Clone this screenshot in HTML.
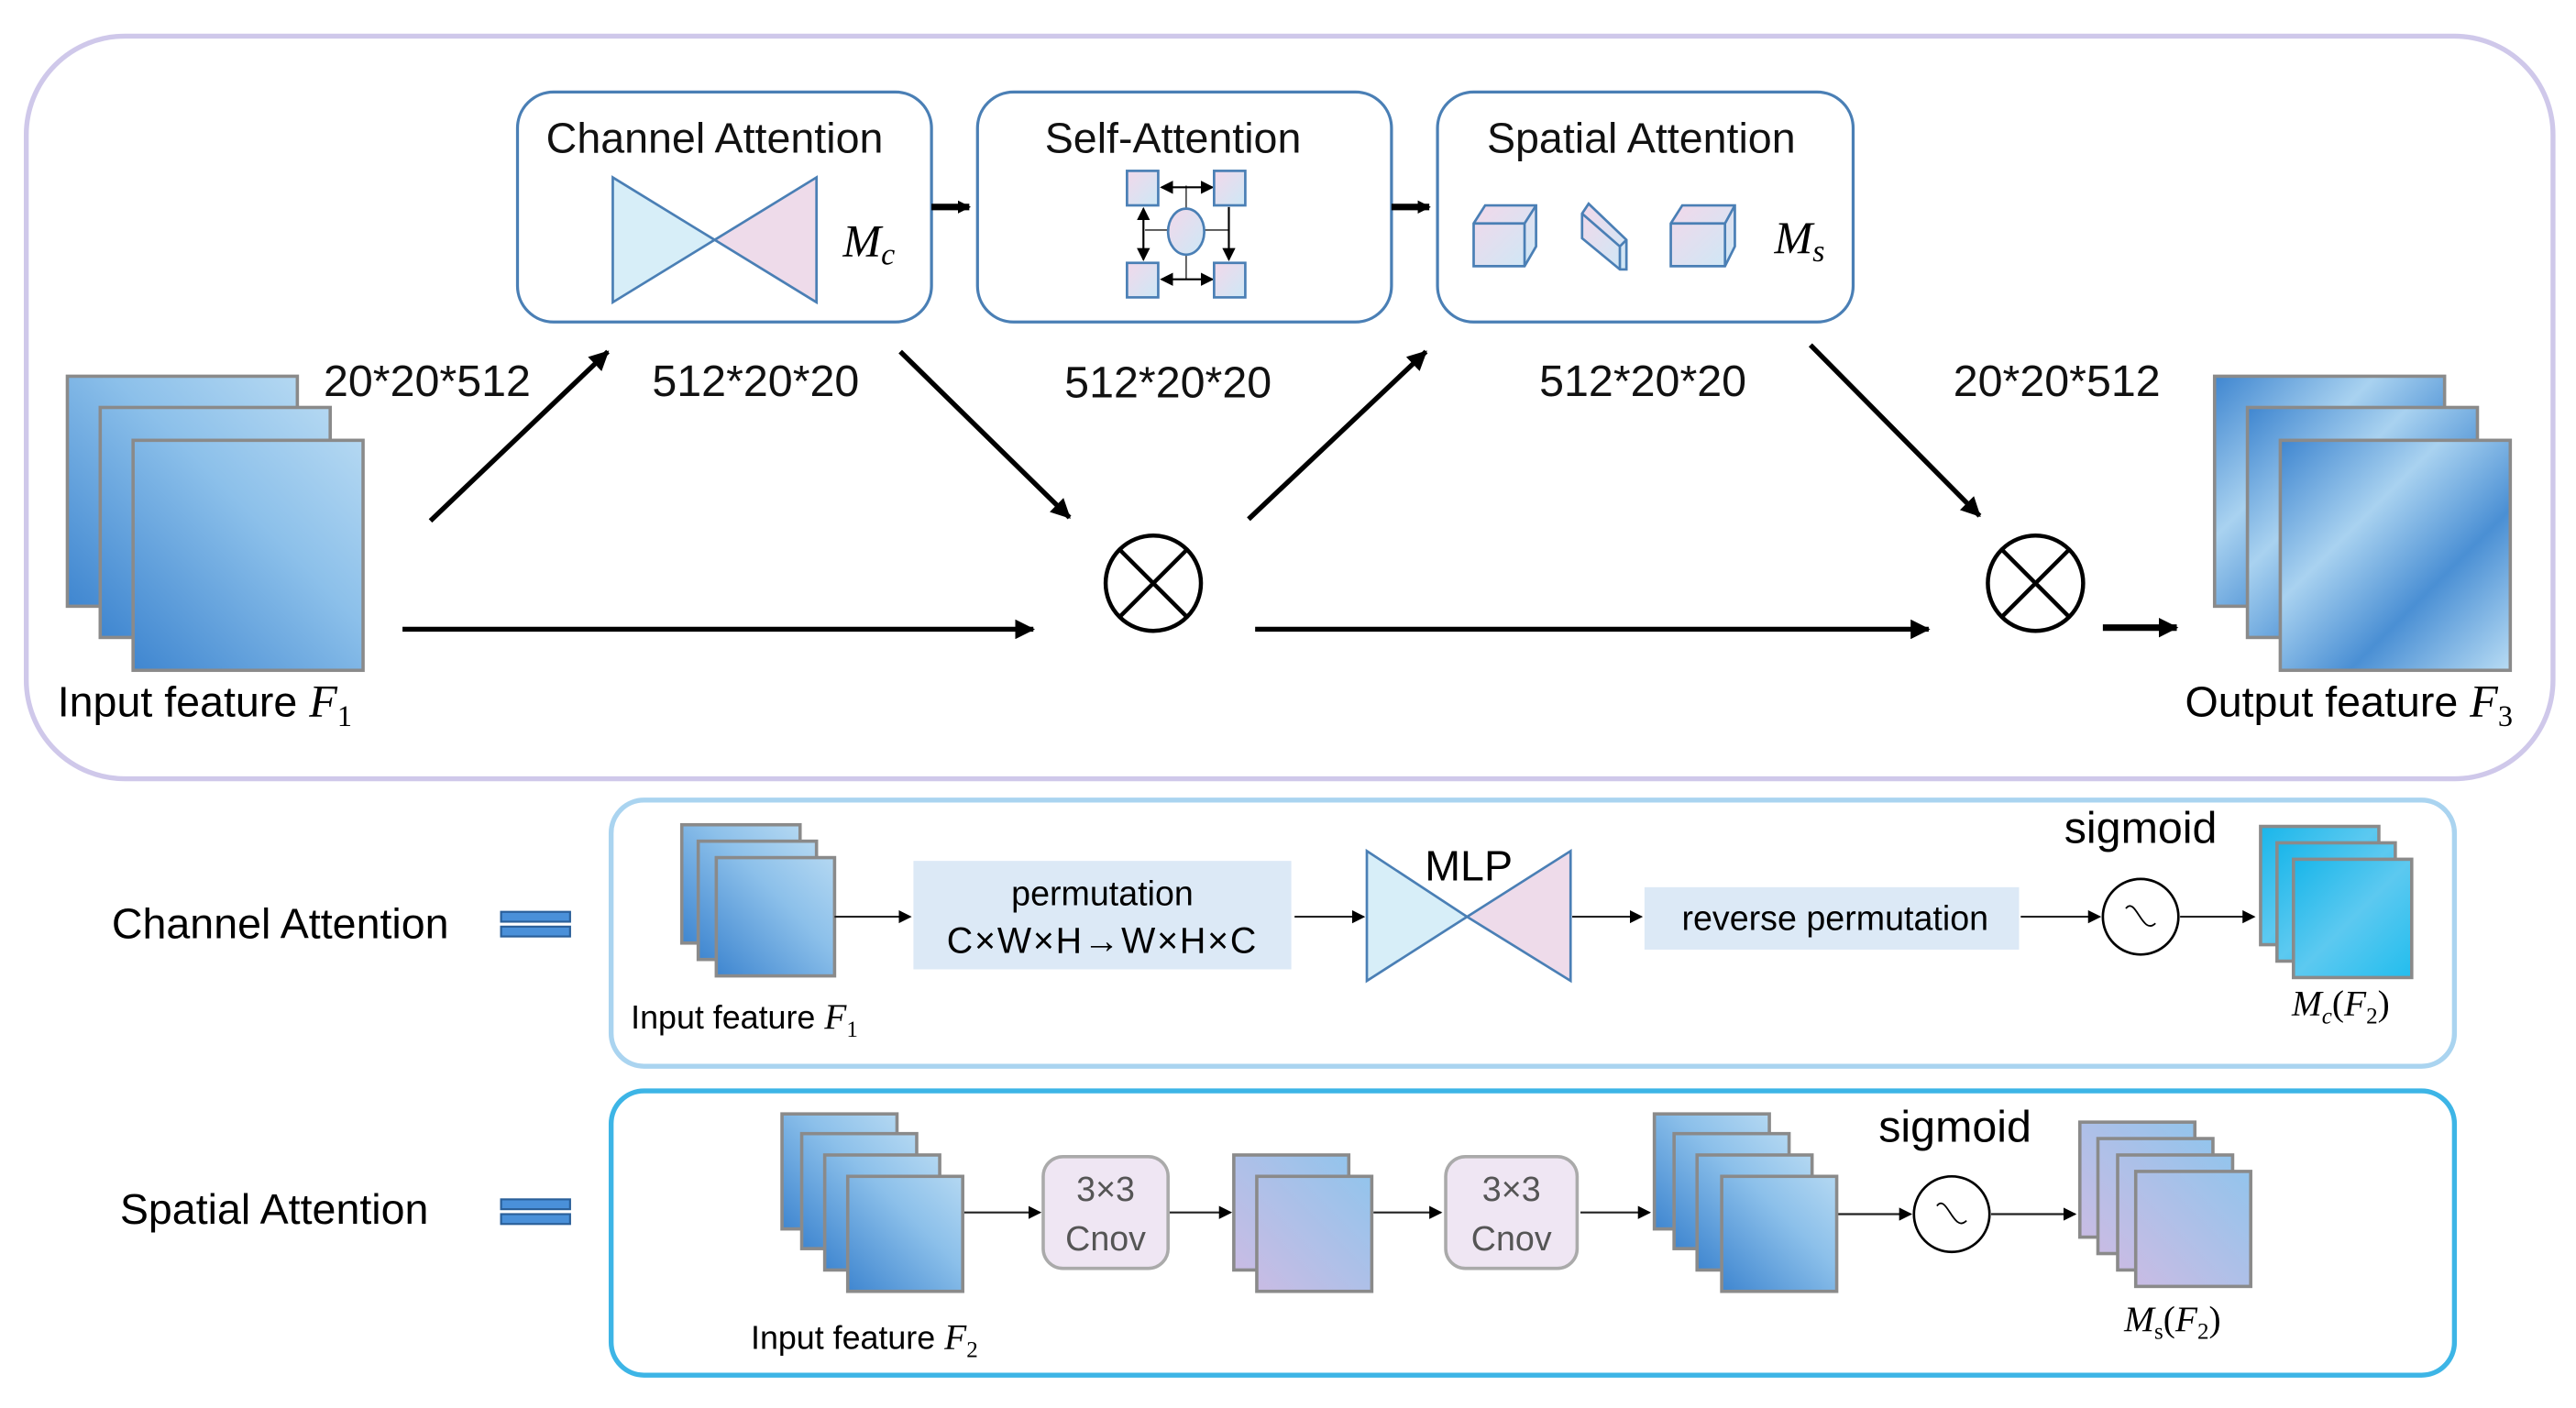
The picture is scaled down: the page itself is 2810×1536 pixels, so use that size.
<!DOCTYPE html>
<html><head><meta charset="utf-8"><style>html,body{margin:0;padding:0;background:#fff}svg{display:block}</style></head><body>
<svg width="2810" height="1536" viewBox="0 0 1568 857" preserveAspectRatio="none" xmlns="http://www.w3.org/2000/svg" font-family="Liberation Sans, sans-serif">
<defs>
<linearGradient id="b1" x1="0" y1="1" x2="1" y2="0"><stop offset="0" stop-color="#3f86d0"/><stop offset="0.6" stop-color="#8cc0ea"/><stop offset="1" stop-color="#b4d8f2"/></linearGradient>
<linearGradient id="b2" x1="0" y1="0" x2="1" y2="1"><stop offset="0" stop-color="#3f86d0"/><stop offset="0.35" stop-color="#a9d2f0"/><stop offset="0.65" stop-color="#4a8fd4"/><stop offset="1" stop-color="#b8dcf4"/></linearGradient>
<linearGradient id="cy" x1="0" y1="0" x2="1" y2="1"><stop offset="0" stop-color="#19b6ea"/><stop offset="0.5" stop-color="#5cc9f0"/><stop offset="1" stop-color="#22bdee"/></linearGradient>
<linearGradient id="lv" x1="0" y1="1" x2="1" y2="0"><stop offset="0" stop-color="#c9bce4"/><stop offset="1" stop-color="#93c4ec"/></linearGradient>
<linearGradient id="pk" x1="0" y1="0" x2="1" y2="1"><stop offset="0" stop-color="#f2d8ea"/><stop offset="1" stop-color="#cde8f6"/></linearGradient>
<marker id="a" markerWidth="8" markerHeight="8" refX="7" refY="4" orient="auto-start-reverse" markerUnits="userSpaceOnUse"><path d="M0,0 L8,4 L0,8 z" fill="#000"/></marker>
<marker id="A" markerWidth="12" markerHeight="12" refX="11" refY="6" orient="auto" markerUnits="userSpaceOnUse"><path d="M0,0 L12,6 L0,12 z" fill="#000"/></marker>
</defs>
<rect x="16" y="22" width="1538" height="452" rx="60" fill="#fff" stroke="#cfc8ea" stroke-width="3"/>
<g fill="#fff" stroke="#4a7fb5" stroke-width="1.8">
<rect x="315" y="56" width="252" height="140" rx="22"/>
<rect x="595" y="56" width="252" height="140" rx="22"/>
<rect x="875" y="56" width="253" height="140" rx="22"/>
</g>
<g font-size="26" text-anchor="middle" fill="#111">
<text x="435" y="93">Channel Attention</text>
<text x="714" y="93">Self-Attention</text>
<text x="999" y="93">Spatial Attention</text>
</g>
<path d="M373,108 L373,184 L435,146Z" fill="#d7eef8" stroke="#4a7fb5" stroke-width="1.5"/>
<path d="M497,108 L497,184 L435,146Z" fill="#eedbea" stroke="#4a7fb5" stroke-width="1.5"/>
<text x="513" y="156" font-family="Liberation Serif, serif" font-style="italic" font-size="28">M<tspan font-size="19" dy="5">c</tspan></text>
<g stroke="#555" stroke-width="1"><line x1="722" y1="113" x2="722" y2="170"/><line x1="697" y1="140" x2="748" y2="140"/></g>
<g stroke="#000" stroke-width="1.2" marker-end="url(#a)" marker-start="url(#a)"><line x1="707" y1="114" x2="738" y2="114"/><line x1="707" y1="170" x2="738" y2="170"/><line x1="696" y1="127" x2="696" y2="158"/></g>
<line x1="748" y1="126" x2="748" y2="158" stroke="#000" stroke-width="1.2" marker-end="url(#a)"/>
<g fill="url(#pk)" stroke="#4a7fb5" stroke-width="1.5">
<rect x="686" y="104" width="19" height="21"/><rect x="739" y="104" width="19" height="21"/>
<rect x="686" y="160" width="19" height="21"/><rect x="739" y="160" width="19" height="21"/>
<ellipse cx="722" cy="141" rx="11" ry="14"/>
</g>
<g fill="url(#pk)" stroke="#4a7fb5" stroke-width="1.5">
<path d="M897,136 L904,125 L935,125 L935,150 L928,162 L897,162Z"/><path d="M897,136 L928,136 L935,125 M928,136 L928,162" fill="none"/>
<path d="M963,130 L967,124 L990,146 L990,164 L986,164 L963,145Z"/><path d="M963,130 L986,150 L990,146 M986,150 L986,164" fill="none"/>
<path d="M1017,136 L1024,125 L1056,125 L1056,150 L1050,162 L1017,162Z"/><path d="M1017,136 L1050,136 L1056,125 M1050,136 L1050,162" fill="none"/>
</g>
<text x="1080" y="154" font-family="Liberation Serif, serif" font-style="italic" font-size="28">M<tspan font-size="19" dy="5">s</tspan></text>
<g stroke="#000" stroke-width="4" marker-end="url(#a)"><line x1="567" y1="126" x2="590" y2="126"/><line x1="847" y1="126" x2="870" y2="126"/></g>
<g font-size="27" text-anchor="middle" fill="#111">
<text x="260" y="241">20*20*512</text><text x="460" y="241">512*20*20</text><text x="711" y="242">512*20*20</text><text x="1000" y="241">512*20*20</text><text x="1252" y="241">20*20*512</text>
</g>
<g stroke="#000" stroke-width="3" marker-end="url(#A)">
<line x1="262" y1="317" x2="370" y2="214"/><line x1="548" y1="214" x2="651" y2="315"/>
<line x1="760" y1="316" x2="868" y2="214"/><line x1="1102" y1="210" x2="1205" y2="314"/>
<line x1="245" y1="383" x2="629" y2="383"/><line x1="764" y1="383" x2="1174" y2="383"/>
<line x1="1280" y1="382" x2="1325" y2="382" stroke-width="4"/>
</g>
<g fill="#fff" stroke="#000" stroke-width="2.5">
<circle cx="702" cy="355" r="29"/><path d="M682,335 L722,375 M722,335 L682,375"/>
<circle cx="1239" cy="355" r="29"/><path d="M1219,335 L1259,375 M1259,335 L1219,375"/>
</g>
<g stroke="#8a8a8a" stroke-width="2">
<rect x="41" y="229" width="140" height="140" fill="url(#b1)"/><rect x="61" y="248" width="140" height="140" fill="url(#b1)"/><rect x="81" y="268" width="140" height="140" fill="url(#b1)"/>
<rect x="1348" y="229" width="140" height="140" fill="url(#b2)"/><rect x="1368" y="248" width="140" height="140" fill="url(#b2)"/><rect x="1388" y="268" width="140" height="140" fill="url(#b2)"/>
</g>
<text x="35" y="436" font-size="26">Input feature <tspan font-family="Liberation Serif, serif" font-style="italic" font-size="28">F</tspan><tspan font-family="Liberation Serif, serif" font-size="18" dy="6">1</tspan></text>
<text x="1330" y="436" font-size="26">Output feature <tspan font-family="Liberation Serif, serif" font-style="italic" font-size="28">F</tspan><tspan font-family="Liberation Serif, serif" font-size="18" dy="6">3</tspan></text>
<rect x="372" y="487" width="1122" height="162" rx="20" fill="#fff" stroke="#aad4f0" stroke-width="3"/>
<rect x="372" y="664" width="1122" height="173" rx="20" fill="#fff" stroke="#3db5e6" stroke-width="3"/>
<text x="68" y="571" font-size="26">Channel Attention</text>
<text x="73" y="745" font-size="26">Spatial Attention</text>
<g fill="#4a90d9" stroke="#2a5f99" stroke-width="1.2">
<rect x="305" y="555" width="42" height="6"/><rect x="305" y="564" width="42" height="6"/>
<rect x="305" y="730" width="42" height="6"/><rect x="305" y="739" width="42" height="6"/>
</g>
<g stroke="#8a8a8a" stroke-width="2">
<rect x="415" y="502" width="72" height="72" fill="url(#b1)"/><rect x="425" y="512" width="72" height="72" fill="url(#b1)"/><rect x="436" y="522" width="72" height="72" fill="url(#b1)"/>
<rect x="1376" y="503" width="72" height="72" fill="url(#cy)"/><rect x="1386" y="513" width="72" height="72" fill="url(#cy)"/><rect x="1396" y="523" width="72" height="72" fill="url(#cy)"/>
</g>
<rect x="556" y="524" width="230" height="66" fill="#dce9f6"/>
<text x="671" y="551" font-size="21" text-anchor="middle">permutation</text>
<text x="671" y="580" font-size="22" text-anchor="middle" letter-spacing="1">C×W×H→W×H×C</text>
<path d="M832,518 L832,597 L893,558Z" fill="#d7eef8" stroke="#4a7fb5" stroke-width="1.5"/>
<path d="M956,518 L956,597 L893,558Z" fill="#eedbea" stroke="#4a7fb5" stroke-width="1.5"/>
<text x="894" y="536" font-size="26" text-anchor="middle">MLP</text>
<rect x="1001" y="540" width="228" height="38" fill="#dce9f6"/>
<text x="1117" y="566" font-size="21" text-anchor="middle">reverse permutation</text>
<text x="1303" y="513" font-size="27" text-anchor="middle">sigmoid</text>
<text x="1190" y="695" font-size="27" text-anchor="middle">sigmoid</text>
<g fill="#fff" stroke="#000" stroke-width="1.5">
<circle cx="1303" cy="558" r="23"/><circle cx="1188" cy="739" r="23"/>
<path d="M1294,553 C1300,545 1304,570 1312,562" fill="none" stroke-width="1"/><path d="M1179,734 C1185,726 1189,751 1197,743" fill="none" stroke-width="1"/>
</g>
<g stroke="#222" stroke-width="1.2" marker-end="url(#a)">
<line x1="508" y1="558" x2="554" y2="558"/><line x1="788" y1="558" x2="830" y2="558"/><line x1="957" y1="558" x2="999" y2="558"/>
<line x1="1230" y1="558" x2="1278" y2="558"/><line x1="1327" y1="558" x2="1372" y2="558"/>
<line x1="586" y1="738" x2="633" y2="738"/><line x1="712" y1="738" x2="749" y2="738"/><line x1="836" y1="738" x2="877" y2="738"/>
<line x1="962" y1="738" x2="1004" y2="738"/><line x1="1118" y1="739" x2="1163" y2="739"/><line x1="1212" y1="739" x2="1263" y2="739"/>
</g>
<text x="384" y="626" font-size="20">Input feature <tspan font-family="Liberation Serif, serif" font-style="italic" font-size="22">F</tspan><tspan font-family="Liberation Serif, serif" font-size="14" dy="5">1</tspan></text>
<text x="1395" y="618" font-family="Liberation Serif, serif" font-size="22"><tspan font-style="italic">M</tspan><tspan font-style="italic" font-size="14" dy="5">c</tspan><tspan dy="-5">(</tspan><tspan font-style="italic">F</tspan><tspan font-size="14" dy="5">2</tspan><tspan dy="-5">)</tspan></text>
<g stroke="#8a8a8a" stroke-width="2">
<rect x="476" y="678" width="70" height="70" fill="url(#b1)"/><rect x="488" y="690" width="70" height="70" fill="url(#b1)"/><rect x="502" y="703" width="70" height="70" fill="url(#b1)"/><rect x="516" y="716" width="70" height="70" fill="url(#b1)"/>
<rect x="751" y="703" width="70" height="70" fill="url(#lv)"/><rect x="765" y="716" width="70" height="70" fill="url(#lv)"/>
<rect x="1007" y="678" width="70" height="70" fill="url(#b1)"/><rect x="1019" y="690" width="70" height="70" fill="url(#b1)"/><rect x="1033" y="703" width="70" height="70" fill="url(#b1)"/><rect x="1048" y="716" width="70" height="70" fill="url(#b1)"/>
<rect x="1266" y="683" width="70" height="70" fill="url(#lv)"/><rect x="1277" y="693" width="70" height="70" fill="url(#lv)"/><rect x="1289" y="703" width="70" height="70" fill="url(#lv)"/><rect x="1300" y="713" width="70" height="70" fill="url(#lv)"/>
</g>
<g fill="#efe6f3" stroke="#aaa" stroke-width="2">
<rect x="635" y="704" width="76" height="68" rx="12"/><rect x="880" y="704" width="80" height="68" rx="12"/>
</g>
<g font-size="21" text-anchor="middle" fill="#555">
<text x="673" y="731">3×3</text><text x="673" y="761">Cnov</text>
<text x="920" y="731">3×3</text><text x="920" y="761">Cnov</text>
</g>
<text x="457" y="821" font-size="20">Input feature <tspan font-family="Liberation Serif, serif" font-style="italic" font-size="22">F</tspan><tspan font-family="Liberation Serif, serif" font-size="14" dy="5">2</tspan></text>
<text x="1293" y="810" font-family="Liberation Serif, serif" font-size="22"><tspan font-style="italic">M</tspan><tspan font-size="14" dy="5">s</tspan><tspan dy="-5">(</tspan><tspan font-style="italic">F</tspan><tspan font-size="14" dy="5">2</tspan><tspan dy="-5">)</tspan></text>
</svg>
</body></html>
